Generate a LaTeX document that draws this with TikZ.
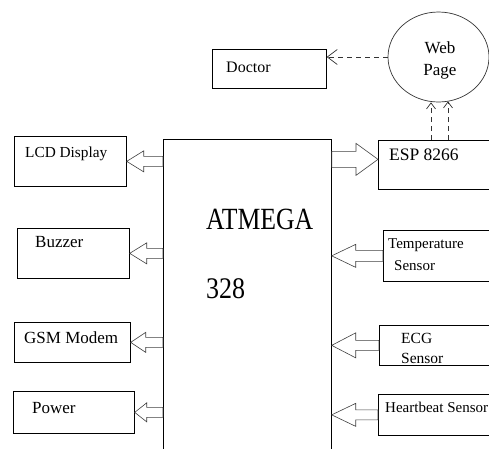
\documentclass[tikz,border=0pt]{standalone}
\usepackage{fontspec}
\setmainfont{Liberation Serif}
\usetikzlibrary{shapes.geometric,arrows.meta,calc}
\begin{document}
\begin{tikzpicture}[x=1pt,y=-1pt,
  box/.style={draw=black,line width=0.7pt,rectangle,inner sep=0pt,anchor=north west},
  lbl/.style={anchor=base west,inner sep=0pt,font=\fontsize{#1}{#1}\selectfont},
  clbl/.style={anchor=base,inner sep=0pt,font=\fontsize{#1}{#1}\selectfont},
  barrow/.style n args={3}{draw=black!75,line width=0.6pt,to path={
    let \p1=(\tikztostart),\p2=(\tikztotarget),\n1={sign(\x2-\x1)} in
    (\x1,\y1+#1pt) -- (\x2-\n1*#3pt,\y1+#1pt) -- (\x2-\n1*#3pt,\y1+#2pt) -- (\x2,\y1)
    -- (\x2-\n1*#3pt,\y1-#2pt) -- (\x2-\n1*#3pt,\y1-#1pt) -- (\x1,\y1-#1pt) -- cycle}},
  darrow/.style={draw=black!80,line width=0.7pt,dash pattern=on 5pt off 4pt}
]
\useasboundingbox (0,0) rectangle (489,448);
\clip (0,0) rectangle (489,448);

% main controller
\node[box,minimum width=168pt,minimum height=330pt] (mcu) at (163,139) {};
\node[lbl=25.7] (t1) at (206,229) {\scalebox{1}[1.2]{ATMEGA}};
\node[lbl=26] (t2) at (206,298) {\scalebox{1}[1.15]{328}};

% left boxes
\node[box,minimum width=112pt,minimum height=50pt] (lcd) at (14,136) {};
\node[box,minimum width=112pt,minimum height=50pt] (buz) at (17,228) {};
\node[box,minimum width=116pt,minimum height=40pt] (gsm) at (14,322) {};
\node[box,minimum width=121pt,minimum height=42pt] (pow) at (13,391) {};
\node[lbl=15.3] (tlcd) at (25,157) {LCD Display};
\node[lbl=17] (tbuz) at (35,247) {Buzzer};
\node[lbl=17] (tgsm) at (24,343) {GSM Modem};
\node[lbl=17] (tpow) at (32,413) {Power};

% right boxes
\node[box,minimum width=130pt,minimum height=49pt] (esp) at (378,140) {};
\node[box,minimum width=130pt,minimum height=51pt] (tmp) at (383,230) {};
\node[box,minimum width=130pt,minimum height=40pt] (ecg) at (379,325) {};
\node[box,minimum width=130pt,minimum height=41pt] (hb) at (378,394) {};
\node[lbl=17.5] (tesp) at (389,160) {ESP 8266};
\node[lbl=15] (ttmp1) at (388,248) {Temperature};
\node[lbl=15] (ttmp2) at (394,270) {Sensor};
\node[lbl=15.5] (tecg1) at (401,343) {ECG};
\node[lbl=15.5] (tecg2) at (401,363) {Sensor};
\node[lbl=15] (thb) at (385,412) {Heartbeat Sensor};

% top
\node[box,minimum width=114pt,minimum height=39pt] (doc) at (212,49) {};
\node[lbl=16] (tdoc) at (226,72) {Doctor};
\node[draw=black!80,line width=0.7pt,ellipse,inner sep=0pt,minimum width=101pt,minimum height=90pt] (web) at (438.5,57) {};
\node[clbl=17] (tweb1) at (440,53) {Web};
\node[clbl=17] (tweb2) at (440,75) {Page};

% block arrows, left side
\draw[barrow={5}{10.5}{17}] (mcu.west |- lcd.east) to (lcd.east);
\draw[barrow={5}{10.5}{17}] (mcu.west |- buz.east) to (buz.east);
\draw[barrow={5}{10}{15}] (mcu.west |- gsm.east) to (gsm.east);
\draw[barrow={5}{9.5}{12}] (mcu.west |- pow.east) to (pow.east);

% block arrows, right side
\draw[barrow={8}{16}{22}] ([yshift=5.5pt]mcu.east |- esp.west) to ([yshift=5.5pt]esp.west);
\draw[barrow={5.5}{11.5}{24}] (tmp.west) to (mcu.east |- tmp.west);
\draw[barrow={5}{12.5}{24}] (ecg.west) to (mcu.east |- ecg.west);
\draw[barrow={5}{11.5}{24}] (hb.west) to (mcu.east |- hb.west);

% dashed arrows
\draw[darrow,-{Straight Barb[length=10pt,width=15pt]}] (web.west) -- (doc.east |- web.west);
\draw[darrow,-{Straight Barb[length=6pt,width=9pt]}] ([xshift=-7.5pt]web.south |- esp.north) -- ([xshift=-7.5pt]web.south);
\draw[darrow,-{Straight Barb[length=6pt,width=9pt]}] ([xshift=9.5pt]web.south |- esp.north) -- ([xshift=9.5pt,yshift=1pt]web.south);
\end{tikzpicture}
\end{document}
